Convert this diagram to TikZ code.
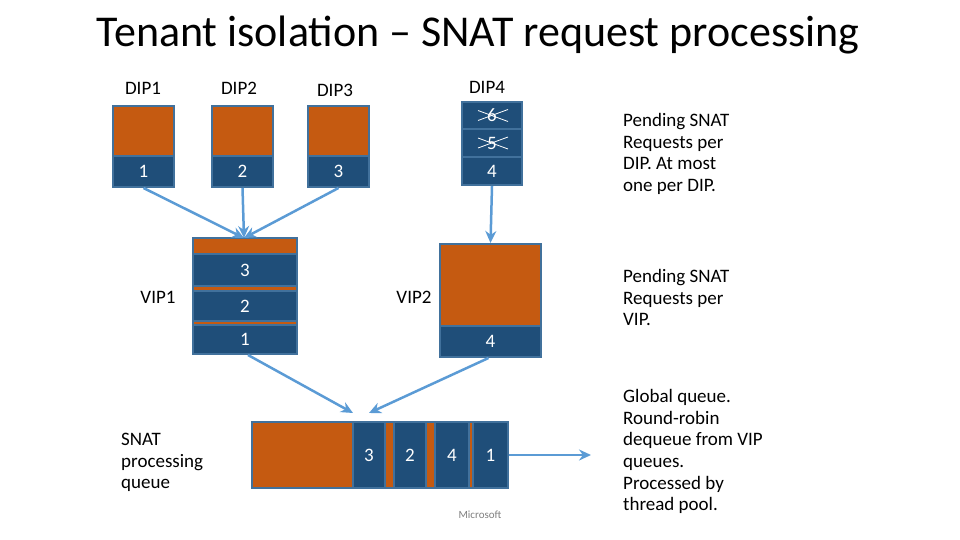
\documentclass[tikz,border=0pt]{standalone}
\usepackage{fontspec}
\setmainfont{Carlito}
\usetikzlibrary{arrows.meta,calc}
\definecolor{qorange}{HTML}{C55A11}
\definecolor{qblue}{HTML}{1F4E79}
\definecolor{qbord}{HTML}{41719C}
\definecolor{qline}{HTML}{5B9BD5}
\definecolor{qgrey}{HTML}{7F7F7F}
\begin{document}
\begin{tikzpicture}[x=1pt,y=-1pt,
  sz/.style 2 args={minimum width=#1pt, minimum height=#2pt},
  obox/.style={draw=qbord, line width=2pt, fill=qorange, inner sep=0pt},
  cell/.style={draw=qbord, line width=2pt, fill=qblue, inner sep=0pt, text=white, font=\fontsize{19}{22}\selectfont},
  lbl/.style={font=\fontsize{19}{22}\selectfont, inner sep=0pt},
  note/.style={font=\fontsize{19}{21.7}\selectfont, align=left, anchor=north west, inner sep=0pt},
  conn/.style={draw=qline, line width=2.5pt, -{Stealth[length=12pt,width=11pt]}},
  cross/.style={draw=white, line width=0.8pt}
]
\useasboundingbox (0,0) rectangle (960,540);

% title
\node[font=\fontsize{44}{52}\selectfont] (title) at (478,35) {Tenant isolation – SNAT request processing};

% DIP labels
\node[lbl] (l1) at (143,88) {DIP1};
\node[lbl] (l2) at (239,88) {DIP2};
\node[lbl] (l3) at (335,90) {DIP3};
\node[lbl] (l4) at (487,87) {DIP4};

% DIP boxes
\node[obox, sz={61}{50}] (d1o) at (143.5,131) {};
\node[cell, sz={61}{31}] (d1) at (143.5,171.5) {1};
\node[obox, sz={61}{50}] (d2o) at (242.5,131) {};
\node[cell, sz={61}{31}] (d2) at (242.5,171.5) {2};
\node[obox, sz={61}{50}] (d3o) at (338.5,131) {};
\node[cell, sz={61}{31}] (d3) at (338.5,171.5) {3};
\node[cell, sz={60}{27}] (d6) at (492,115.5) {6};
\node[cell, sz={60}{28}] (d5) at (492,143) {5};
\node[cell, sz={60}{28}] (d4) at (492,171) {4};
\draw[cross] ($(d6.center)+(-14,5)$) -- ($(d6.center)+(16,-6)$);
\draw[cross] ($(d6.center)+(-14,-5)$) -- ($(d6.center)+(16,6)$);
\draw[cross] ($(d5.center)+(-14,5)$) -- ($(d5.center)+(16,-6)$);
\draw[cross] ($(d5.center)+(-14,-5)$) -- ($(d5.center)+(16,6)$);

% VIP1
\node[lbl] (v1l) at (158,297) {VIP1};
\node[obox, sz={104}{116}] (v1) at (245,296) {};
\node[cell, sz={104}{32}] (v13) at (245,270) {3};
\node[cell, sz={104}{30}] (v12) at (245,306) {2};
\node[cell, sz={104}{29}] (v11) at (245,339.5) {1};

% VIP2
\node[lbl] (v2l) at (414,297) {VIP2};
\node[obox, sz={101}{82}] (v2o) at (490.5,285) {};
\node[cell, sz={101}{31}] (v24) at (490.5,341.5) {4};

% connectors DIP -> VIP
\coordinate (m) at (244,238);
\draw[conn] (d1.south) -- (m);
\draw[conn] (d2.south) -- (m);
\draw[conn] (d3.south) -- (m);
\draw[conn] (d4.south) -- (v2o.north);

% queue
\node[note] (ql) at (121,433) {SNAT\\processing\\queue};
\node[obox, sz={256}{66}] (q) at (380,455) {};
\node[cell, sz={32}{66}] (q3) at (369,455) {3};
\node[cell, sz={32}{66}] (q2) at (410,455) {2};
\node[cell, sz={34}{66}] (q4) at (452,455) {4};
\node[cell, sz={35}{66}] (q1) at (490.5,455) {1};
\coordinate (qa) at (353,413);
\coordinate (qb) at (369,413);
\coordinate (qout) at (591,455);
\draw[conn] ($(v11.south)+(3,0)$) -- (qa);
\draw[conn] ($(v24.south)+(-2,0)$) -- (qb);
\draw[conn] (q1.east) -- (qout);

\node[font=\fontsize{11}{13}\selectfont, text=qgrey] (ms) at (480,515) {Microsoft};

% notes
\node[note] (n1) at (623,113) {Pending SNAT\\Requests per\\DIP. At most\\one per DIP.};
\node[note] (n2) at (623,269) {Pending SNAT\\Requests per\\VIP.};
\node[note] (n3) at (623,389) {Global queue.\\Round-robin\\dequeue from VIP\\queues.\\Processed by\\thread pool.};
\end{tikzpicture}
\end{document}
